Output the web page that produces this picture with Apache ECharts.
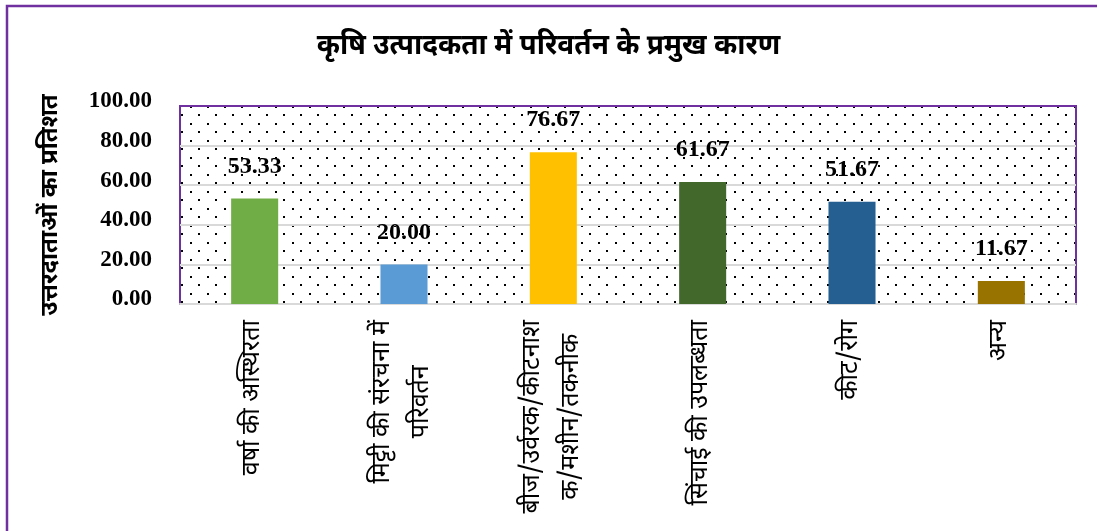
<!DOCTYPE html>
<html>
<head>
<meta charset="utf-8">
<script src="https://cdn.jsdelivr.net/npm/echarts@6/dist/echarts.min.js"></script>
<style>html,body{margin:0;padding:0;background:#fff}#c{width:1097px;height:531px}</style>
</head>
<body>
<div id="c"></div>
<script>
const titleText = 'कृषि उत्पादकता में परिवर्तन के प्रमुख कारण';
const yAxisName = 'उत्तरदाताओं का प्रतिशत';
const categories = [
  'वर्षा की अस्थिरता',
  'मिट्टी की संरचना में\nपरिवर्तन',
  'बीज/उर्वरक/कीटनाश\nक/मशीन/तकनीक',
  'सिंचाई की उपलब्धता',
  'कीट/रोग',
  'अन्य'
];
const values = [53.33, 20.00, 76.67, 61.67, 51.67, 11.67];
const barColors = ['#70AD47', '#5B9BD5', '#FFC000', '#43682B', '#255E91', '#997300'];

const deva = '"Noto Sans Devanagari", "Noto Sans", "Lohit Devanagari", "FreeSans", sans-serif';
const serif = '"Liberation Serif", "Times New Roman", serif';

// dotted pattern tile
const tile = document.createElement('canvas');
tile.width = 17; tile.height = 17;
const tctx = tile.getContext('2d');
tctx.fillStyle = '#fff'; tctx.fillRect(0, 0, 17, 17);
tctx.fillStyle = '#000';
tctx.fillRect(3, 4, 2, 2);
tctx.fillRect(11, 12, 2, 2);

const chart = echarts.init(document.getElementById('c'));
chart.setOption({
  backgroundColor: '#fff',
  animation: false,
  title: {
    text: titleText, left: 'center', top: 30,
    textStyle: { fontFamily: deva, fontSize: 28, fontWeight: 'bold', color: '#000' }
  },
  graphic: [{
    type: 'rect', shape: { x: 7, y: 6, width: 1200, height: 700 },
    style: { fill: 'none', stroke: '#7030A0', lineWidth: 2.5 }, silent: true
  }],
  grid: {
    left: 180, right: 21, top: 106, bottom: 227, show: true,
    backgroundColor: { image: tile, repeat: 'repeat' },
    borderColor: '#7030A0', borderWidth: 2
  },
  xAxis: {
    type: 'category', data: categories,
    axisLine: { show: true, lineStyle: { color: '#D9D9D9', width: 2 } },
    axisTick: { show: false },
    axisLabel: {
      rotate: 90, margin: 16, interval: 0, color: '#000',
      fontFamily: deva, fontSize: 25, lineHeight: 39,
      formatter: function (v) {
        return v.split('\n').map(function (s) { return '{c|' + s + '}'; }).join('\n');
      },
      rich: { c: { align: 'center', fontFamily: deva, fontSize: 25, lineHeight: 39, color: '#000' } }
    }
  },
  yAxis: {
    type: 'value', min: 0, max: 100, interval: 20,
    name: yAxisName, nameLocation: 'middle', nameGap: 115, nameRotate: 90,
    nameTextStyle: { fontFamily: deva, fontSize: 24, fontWeight: 'bold', color: '#000' },
    axisLine: { show: false }, axisTick: { show: false },
    axisLabel: {
      margin: 28, color: '#000', fontFamily: serif, fontSize: 23, fontWeight: 'bold',
      verticalAlign: 'bottom', lineHeight: 9,
      formatter: function (v) { return v.toFixed(2); }
    },
    splitLine: { show: true, showMinLine: false, showMaxLine: false, lineStyle: { color: '#D9D9D9', width: 2 } }
  },
  series: [{
    type: 'bar', barCategoryGap: '68.5%',
    data: values.map(function (v, i) { return { value: v, itemStyle: { color: barColors[i] } }; }),
    label: {
      show: true, position: 'top', distance: 20, color: '#000',
      fontFamily: serif, fontSize: 24, fontWeight: 'bold',
      formatter: function (p) { return p.value.toFixed(2); }
    }
  }]
});
</script>
</body>
</html>
